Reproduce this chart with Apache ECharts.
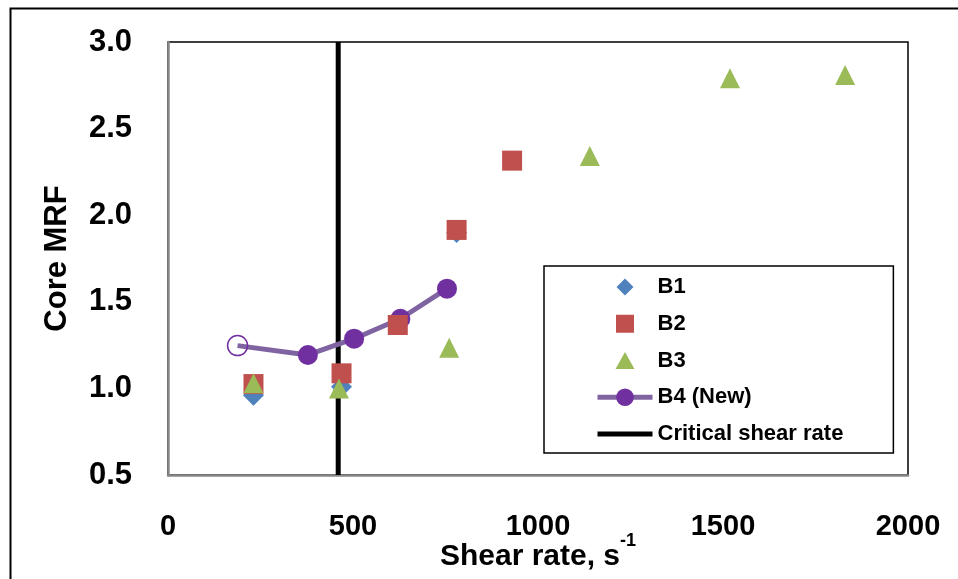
<!DOCTYPE html>
<html>
<head>
<meta charset="utf-8">
<script src="https://cdn.jsdelivr.net/npm/echarts@6/dist/echarts.min.js"></script>
<style>
html,body{margin:0;padding:0;background:#fff;}
#chart{width:958px;height:579px;}
</style>
</head>
<body>
<div id="chart"></div>
<script>
// ---- data ----
const xTicks = [0, 500, 1000, 1500, 2000];
const yTicks = [0.5, 1.0, 1.5, 2.0, 2.5, 3.0];
const b1X = [231, 469, 780];
const b1Y = [0.96, 1.01, 1.90];
const b2X = [231, 469, 621, 780, 930];
const b2Y = [1.025, 1.087, 1.366, 1.915, 2.315];
const b3X = [231, 462, 760, 1140, 1519, 1830];
const b3Y = [1.03, 1.00, 1.235, 2.342, 2.79, 2.81];
const b4X = [188, 378, 503, 628, 754];
const b4Y = [1.247, 1.193, 1.287, 1.402, 1.576];
const criticalShearRate = [460];
const criticalRange = [0.5, 3.0];
const seriesNames = ['B1', 'B2', 'B3', 'B4 (New)', 'Critical shear rate'];

const FONT = 'Liberation Sans';
const pair = (xs, ys) => xs.map((x, i) => [x, ys[i]]);

const b4Data = pair(b4X, b4Y).map((p, i) => i === 0
  ? { value: p, itemStyle: { color: 'rgba(0,0,0,0)', borderColor: '#7030A0', borderWidth: 1.5 } }
  : { value: p });

const chart = echarts.init(document.getElementById('chart'), null, { renderer: 'canvas' });
chart.setOption({
  animation: false,
  backgroundColor: '#fff',
  textStyle: { fontFamily: FONT },
  graphic: [{
    type: 'rect', left: 8, top: 6, silent: true, z: -10,
    shape: { width: 1000, height: 600 },
    style: { fill: 'none', stroke: '#000', lineWidth: 2 }
  }],
  grid: {
    left: 168, top: 42, width: 740, height: 433,
    outerBoundsMode: 'none', containLabel: false,
    show: true, borderColor: '#000', borderWidth: 1.5, backgroundColor: '#fff'
  },
  xAxis: {
    type: 'value', min: xTicks[0], max: xTicks[xTicks.length - 1], interval: 500,
    splitLine: { show: false },
    axisTick: { show: false },
    axisLine: { show: true, lineStyle: { color: '#878787', width: 2.5 } },
    axisLabel: { margin: 37, color: '#000', fontSize: 29, fontWeight: 'bold', fontFamily: FONT,
      formatter: v => String(v) },
    name: '{m|Shear rate, s}{s|-1}',
    nameLocation: 'middle', nameGap: 57, nameMoveOverlap: false,
    nameTextStyle: {
      rich: {
        m: { fontSize: 30, fontWeight: 'bold', color: '#000', fontFamily: FONT, lineHeight: 40, verticalAlign: 'bottom' },
        s: { fontSize: 18, fontWeight: 'bold', color: '#000', fontFamily: FONT, lineHeight: 18, verticalAlign: 'top' }
      }
    }
  },
  yAxis: {
    type: 'value', min: yTicks[0], max: yTicks[yTicks.length - 1], interval: 0.5,
    splitLine: { show: false },
    axisTick: { show: false },
    axisLine: { show: true, lineStyle: { color: '#878787', width: 2.5 } },
    axisLabel: { margin: 36, color: '#000', fontSize: 31, fontWeight: 'bold', fontFamily: FONT,
      formatter: v => v.toFixed(1) },
    name: 'Core MRF', nameLocation: 'middle', nameGap: 95, nameRotate: 90, nameMoveOverlap: false,
    nameTextStyle: { fontSize: 31, fontWeight: 'bold', color: '#000', fontFamily: FONT }
  },
  legend: {
    data: [
      { name: seriesNames[0], icon: 'path://M0,0 M22,22 M11,2.5 L19.5,11 L11,19.5 L2.5,11 Z' },
      { name: seriesNames[1], icon: 'path://M0,0 M22,22 M2,2 L20,2 L20,20 L2,20 Z' },
      { name: seriesNames[2], icon: 'path://M0,0 M22,22 M11,2.5 L20.5,19.5 L1.5,19.5 Z' },
      { name: seriesNames[3], lineStyle: { width: 5, color: '#8064A2' } },
      { name: seriesNames[4], icon: 'path://M0,0 L55,0 L55,5 L0,5 Z' }
    ],
    orient: 'vertical', left: 544, top: 266,
    padding: [10, 50, 8, 51],
    itemWidth: 55, itemHeight: 22, itemGap: 14.75,
    symbolKeepAspect: true,
    lineStyle: { width: 5 },
    backgroundColor: '#fff', borderColor: '#000', borderWidth: 1.5,
    textStyle: { fontSize: 22, fontWeight: 'bold', color: '#000', fontFamily: FONT, width: 200 }
  },
  series: [
    {
      name: seriesNames[4], type: 'line', z: 1,
      data: criticalRange.map(y => [criticalShearRate[0], y]),
      symbol: 'none', lineStyle: { color: '#000', width: 5 }, itemStyle: { color: '#000' }
    },
    {
      name: seriesNames[3], type: 'line', z: 2,
      data: b4Data, symbol: 'circle', symbolSize: 20, showAllSymbol: true,
      lineStyle: { color: '#8064A2', width: 5 }, itemStyle: { color: '#7030A0' }
    },
    {
      name: seriesNames[0], type: 'scatter', z: 3,
      data: pair(b1X, b1Y), symbol: 'diamond', symbolSize: 21,
      itemStyle: { color: '#4F81BD', opacity: 1 }
    },
    {
      name: seriesNames[1], type: 'scatter', z: 4,
      data: pair(b2X, b2Y), symbol: 'rect', symbolSize: 20,
      itemStyle: { color: '#C0504D', opacity: 1 }
    },
    {
      name: seriesNames[2], type: 'scatter', z: 5,
      data: pair(b3X, b3Y), symbol: 'triangle', symbolSize: 20,
      itemStyle: { color: '#9BBB59', opacity: 1 }
    }
  ]
});
</script>
</body>
</html>
